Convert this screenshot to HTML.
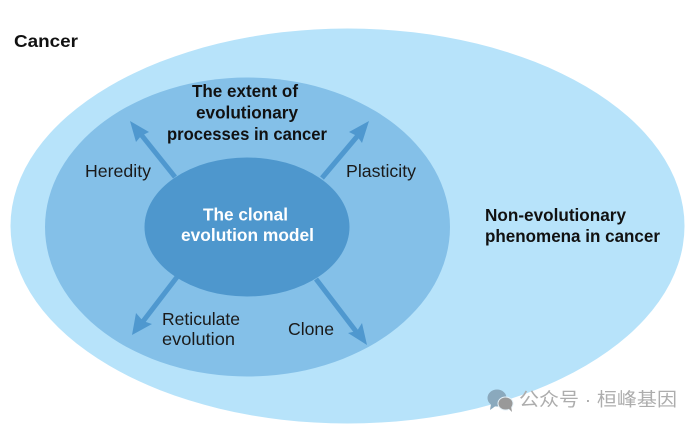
<!DOCTYPE html>
<html>
<head>
<meta charset="utf-8">
<style>
html,body{margin:0;padding:0;background:#fff;}
svg{display:block;}
text{font-family:"Liberation Sans","Noto Sans CJK SC",sans-serif;fill:#111;}
.b{font-weight:700;font-size:17.500px;}
.r{font-size:17.500px;fill:#1a1a1a;}
</style>
</head>
<body>
<svg width="699" height="428" viewBox="0 0 699 428" xmlns="http://www.w3.org/2000/svg">
<rect width="699" height="428" fill="#fff"/>
<ellipse cx="347.500" cy="226" rx="337" ry="197.500" fill="#b7e3fa"/>
<ellipse cx="247.500" cy="227" rx="202.500" ry="149.500" fill="#84c0e8"/>
<g stroke="#4f98cf" stroke-width="5" fill="none">
<line x1="175" y1="177" x2="139" y2="132"/>
<line x1="322" y1="178" x2="360" y2="133"/>
<line x1="177" y1="277" x2="141" y2="324"/>
<line x1="316" y1="279" x2="358" y2="334"/>
</g>
<g fill="#4f98cf">
<polygon points="130,121 149,132 141,136 136,142"/>
<polygon points="369,121 362,143 357,136 349,132"/>
<polygon points="132,335 136,313 143,321 152,324"/>
<polygon points="367,345 348,333 357,331 362,323"/>
</g>
<ellipse cx="247" cy="227" rx="102.500" ry="69.500" fill="#4e97cd"/>
<text x="14" y="47" class="b" textLength="64" lengthAdjust="spacingAndGlyphs">Cancer</text>
<text x="192" y="97" class="b" textLength="106" lengthAdjust="spacingAndGlyphs">The extent of</text>
<text x="196" y="118.500" class="b" textLength="102" lengthAdjust="spacingAndGlyphs">evolutionary</text>
<text x="167" y="140" class="b" textLength="160" lengthAdjust="spacingAndGlyphs">processes in cancer</text>
<text x="203" y="220.500" class="b" style="fill:#fff" textLength="85" lengthAdjust="spacingAndGlyphs">The clonal</text>
<text x="181" y="241" class="b" style="fill:#fff" textLength="133" lengthAdjust="spacingAndGlyphs">evolution model</text>
<text x="485" y="221" class="b" textLength="141" lengthAdjust="spacingAndGlyphs">Non-evolutionary</text>
<text x="485" y="242" class="b" textLength="175" lengthAdjust="spacingAndGlyphs">phenomena in cancer</text>
<text x="85" y="177" class="r" textLength="66" lengthAdjust="spacingAndGlyphs">Heredity</text>
<text x="346" y="177" class="r" textLength="70" lengthAdjust="spacingAndGlyphs">Plasticity</text>
<text x="162" y="325" class="r" textLength="78" lengthAdjust="spacingAndGlyphs">Reticulate</text>
<text x="162" y="345" class="r" textLength="73" lengthAdjust="spacingAndGlyphs">evolution</text>
<text x="288" y="335" class="r" textLength="46" lengthAdjust="spacingAndGlyphs">Clone</text>
<g>
<ellipse cx="497" cy="398" rx="9.500" ry="8.500" fill="#8aa9bd"/>
<polygon points="491,404 490,410 497,405" fill="#8aa9bd"/>
<ellipse cx="505.500" cy="403.500" rx="7.500" ry="6.500" fill="#999" stroke="#e4f1f8" stroke-width="1"/>
<polygon points="508,408 512,412 511,406" fill="#999"/>
</g>
<text x="519" y="406" style="font-size:18.500px;fill:#adadad" textLength="158" lengthAdjust="spacingAndGlyphs">公众号 · 桓峰基因</text>
</svg>
</body>
</html>
